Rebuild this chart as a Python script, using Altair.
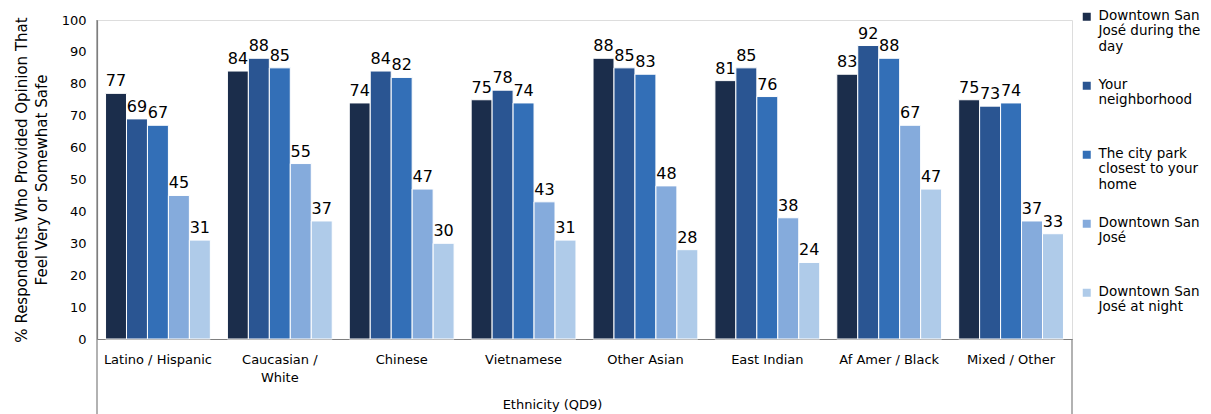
import altair as alt
import pandas as pd

# Share of respondents who feel very or somewhat safe, by ethnicity and location
ethnicities = [
    "Latino / Hispanic", "Caucasian / White", "Chinese", "Vietnamese",
    "Other Asian", "East Indian", "Af Amer / Black", "Mixed / Other",
]
# wrapped axis labels (one list of lines per ethnicity)
ethnicity_lines = [
    ["Latino / Hispanic"], ["Caucasian /", "White"], ["Chinese"], ["Vietnamese"],
    ["Other Asian"], ["East Indian"], ["Af Amer / Black"], ["Mixed / Other"],
]
series = [
    "Downtown San José during the day",
    "Your neighborhood",
    "The city park closest to your home",
    "Downtown San José",
    "Downtown San José at night",
]
series_lines = [
    ["Downtown San", "José during the", "day"],
    ["Your", "neighborhood"],
    ["The city park", "closest to your", "home"],
    ["Downtown San", "José"],
    ["Downtown San", "José at night"],
]
colors = ["#1b2d4b", "#2a5592", "#336fb7", "#85abdc", "#afcbe9"]
y_ticks = [0, 10, 20, 30, 40, 50, 60, 70, 80, 90, 100]

day_downtown = [77, 84, 74, 75, 88, 81, 83, 75]
neighborhood = [69, 88, 84, 78, 85, 85, 92, 73]
city_park = [67, 85, 82, 74, 83, 76, 88, 74]
downtown = [45, 55, 47, 43, 48, 38, 67, 37]
night_downtown = [31, 37, 30, 31, 28, 24, 47, 33]

values_by_series = [day_downtown, neighborhood, city_park, downtown, night_downtown]

rows = []
for s_idx, (name, vals) in enumerate(zip(series, values_by_series)):
    for e, v in zip(ethnicities, vals):
        rows.append({"ethnicity": e, "location": name, "order": s_idx, "pct": v})
df = pd.DataFrame(rows)

W, H = 975, 319
FONT = "DejaVu Sans"


def lookup_expr(keys, lines):
    pairs = ", ".join(
        "'" + k + "': [" + ", ".join("'" + l + "'" for l in ls) + "]"
        for k, ls in zip(keys, lines)
    )
    return "{" + pairs + "}[datum.label]"


x_axis = alt.Axis(
    title="Ethnicity (QD9)",
    labelAngle=0,
    labelExpr=lookup_expr(ethnicities, ethnicity_lines),
    labelFont=FONT,
    labelFontSize=13,
    labelColor="#000000",
    labelPadding=14,
    labelLineHeight=18,
    ticks=False,
    domainColor="#7f7f7f",
    domainWidth=1.2,
    titleFont=FONT,
    titleFontSize=13,
    titleFontWeight="normal",
    titleColor="#000000",
    titleX=455,
    titleY=59,
    titleBaseline="top",
)
y_axis = alt.Axis(
    title=["% Respondents Who Provided Opinion That", "Feel Very or Somewhat Safe"],
    values=y_ticks,
    labelOverlap=False,
    grid=False,
    ticks=False,
    labelFont=FONT,
    labelFontSize=13,
    labelColor="#000000",
    labelPadding=11,
    domainColor="#7f7f7f",
    domainWidth=1.2,
    titleFont=FONT,
    titleFontSize=15,
    titleFontWeight="normal",
    titleColor="#000000",
    titlePadding=12,
    titleLineHeight=20,
)

x_enc = alt.X(
    "ethnicity:N",
    sort=ethnicities,
    scale=alt.Scale(paddingInner=0.14, paddingOuter=0.07),
    axis=x_axis,
)
y_enc = alt.Y("pct:Q", scale=alt.Scale(domain=[0, 100]), axis=y_axis)
x_off = alt.XOffset("location:N", sort=series, scale=alt.Scale(paddingInner=0))

# square legend swatch drawn level with the first line of each label
swatch = "M-1,1H1V3H-1Z"

bars = alt.Chart(df).mark_bar(stroke="white", strokeWidth=1).encode(
    x=x_enc,
    xOffset=x_off,
    y=y_enc,
    color=alt.Color(
        "location:N",
        sort=series,
        scale=alt.Scale(domain=series, range=colors),
        legend=alt.Legend(
            title=None,
            orient="none",
            legendX=983,
            legendY=-18,
            direction="vertical",
            symbolType=swatch,
            symbolSize=64,
            symbolStrokeWidth=0,
            labelExpr=lookup_expr(series, series_lines),
            labelFont=FONT,
            labelFontSize=13.5,
            labelColor="#000000",
            labelLimit=200,
            labelBaseline="top",
            labelOffset=5,
            gridAlign="all",
            rowPadding=17,
        ),
    ),
)

labels = alt.Chart(df).mark_text(
    baseline="bottom", dy=-4, font=FONT, fontSize=16, color="#000000"
).encode(
    x=x_enc,
    xOffset=x_off,
    y=y_enc,
    text="pct:Q",
)

# frame around the category label area below the plot
frame = pd.DataFrame({"side": ["left", "right"]})
left_line = alt.Chart(frame.iloc[[0]]).mark_rule(color="#7f7f7f", strokeWidth=1.2).encode(
    x=alt.value(0), y=alt.value(0), y2=alt.value(H + 80)
)
right_line = alt.Chart(frame.iloc[[1]]).mark_rule(color="#7f7f7f", strokeWidth=1.2).encode(
    x=alt.value(W), y=alt.value(H), y2=alt.value(H + 80)
)

chart = (
    alt.layer(bars, labels, left_line, right_line)
    .properties(
        width=W,
        height=H,
        autosize=alt.AutoSizeParams(type="none"),
        padding={"left": 97, "top": 20, "right": 139, "bottom": 75},
    )
    .configure_view(strokeWidth=0)
    .configure(background="white")
)

chart.save("out.html", embed_options={"renderer": "svg", "actions": False})
